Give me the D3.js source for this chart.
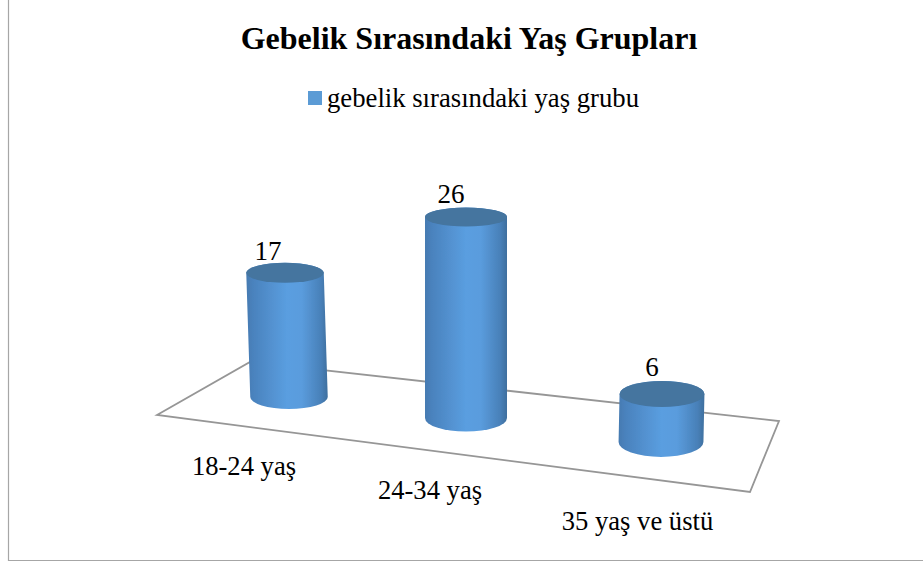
<!DOCTYPE html>
<html>
<head>
<meta charset="utf-8">
<script src="https://cdn.jsdelivr.net/npm/d3@7"></script>
<style>
  html, body { margin: 0; padding: 0; background: #fff; }
  svg { display: block; }
  text { font-family: "Liberation Serif", serif; fill: #000; }
</style>
</head>
<body>
<script>
const width = 923,
      height = 565;

const title = "Gebelik Sırasındaki Yaş Grupları";
const legendLabel = "gebelik sırasındaki yaş grubu";
const categories = ["18-24 yaş", "24-34 yaş", "35 yaş ve üstü"];
const values = [17, 26, 6];

// the "3d" look: every bar has its own spot on the floor
const baseX = d3.scaleOrdinal(categories, [289, 466, 661]),
      baseY = d3.scaleOrdinal(categories, [397, 418, 442]),
      depth = d3.scaleOrdinal(categories, [0.945, 1, 1.035]),
      ryBase = d3.scaleOrdinal(categories, [12, 13.5, 15]),
      ryTop = d3.scaleOrdinal(categories, [10, 9.5, 13]),
      lean = d3.scaleOrdinal(categories, [-4, 0, 1]),
      labelDx = d3.scaleOrdinal(categories, [-17, -15, -10]),
      labelDy = d3.scaleOrdinal(categories, [13, 14, 18]),
      tickX = d3.scaleOrdinal(categories, [244, 430, 637.5]),
      tickY = d3.scaleOrdinal(categories, [474.5, 498.5, 529.5]);

const h = d3.scaleLinear().domain([0, 26]).range([0, 201]);
const radius = 41;

const svg = d3.select("body")
              .append("svg")
              .attr("width", width)
              .attr("height", height)
              .attr("viewBox", [0, 0, width, height]);

const defs = svg.append("defs");
const grad = defs.append("linearGradient").attr("id", "side");
grad.selectAll("stop")
    .data([[0, "#457ab1"], [0.08, "#4a82bd"], [0.5, "#5a9ee0"], [0.68, "#5a9cdd"], [0.92, "#4880b8"], [1, "#3f6f9e"]])
    .enter()
    .append("stop")
    .attr("offset", d => d[0])
    .attr("stop-color", d => d[1]);

defs.append("filter").attr("id", "soft")
    .append("feGaussianBlur").attr("stdDeviation", 0.5);

// frame, only left and bottom show up
svg.append("path")
   .attr("d", "M8.5,0V560.5H923")
   .attr("fill", "none")
   .attr("stroke", "#a6a6a6")
   .attr("stroke-width", 1.2);

svg.append("text")
   .attr("x", 469)
   .attr("y", 49)
   .attr("text-anchor", "middle")
   .attr("font-weight", "bold")
   .attr("font-size", 32)
   .text(title);

svg.append("rect")
   .attr("x", 308)
   .attr("y", 91)
   .attr("width", 14)
   .attr("height", 14)
   .attr("fill", "#5b9bd5");

svg.append("text")
   .attr("x", 327)
   .attr("y", 107)
   .attr("font-size", 26.7)
   .text(legendLabel);

// floor
svg.append("path")
   .attr("d", d3.line()([[157, 415], [250, 362], [779, 421], [750, 492]]) + "Z")
   .attr("fill", "none")
   .attr("stroke", "#969696")
   .attr("stroke-width", 1.8);

const data = categories.map((c, i) => ({category: c, value: values[i]}));

const bars = svg.append("g")
                .selectAll("g")
                .data(data)
                .enter()
                .append("g")
                .attr("filter", "url(#soft)");

function topY(d) {
    return baseY(d.category) - h(d.value) * depth(d.category);
}

function cylinder(d) {
    const r = radius * depth(d.category),
          x0 = baseX(d.category),
          y0 = baseY(d.category),
          x1 = x0 + lean(d.category),
          y1 = topY(d),
          rb = ryBase(d.category),
          rt = ryTop(d.category);
    return `M${x1 - r},${y1}L${x0 - r},${y0}A${r},${rb} 0 0 0 ${x0 + r},${y0}L${x1 + r},${y1}A${r},${rt} 0 0 0 ${x1 - r},${y1}Z`;
}

bars.append("path")
    .attr("d", cylinder)
    .attr("fill", "url(#side)");

bars.append("ellipse")
    .attr("cx", d => baseX(d.category) + lean(d.category))
    .attr("cy", topY)
    .attr("rx", d => radius * depth(d.category))
    .attr("ry", d => ryTop(d.category))
    .attr("fill", "#44749f");

svg.append("g")
   .selectAll("text")
   .data(data)
   .enter()
   .append("text")
   .attr("x", d => baseX(d.category) + lean(d.category) + labelDx(d.category))
   .attr("y", d => topY(d) - labelDy(d.category))
   .attr("text-anchor", "middle")
   .attr("font-size", 27)
   .text(d => d.value);

svg.append("g")
   .selectAll("text")
   .data(categories)
   .enter()
   .append("text")
   .attr("x", d => tickX(d))
   .attr("y", d => tickY(d))
   .attr("text-anchor", "middle")
   .attr("font-size", 26.6)
   .text(d => d);
</script>
</body>
</html>
